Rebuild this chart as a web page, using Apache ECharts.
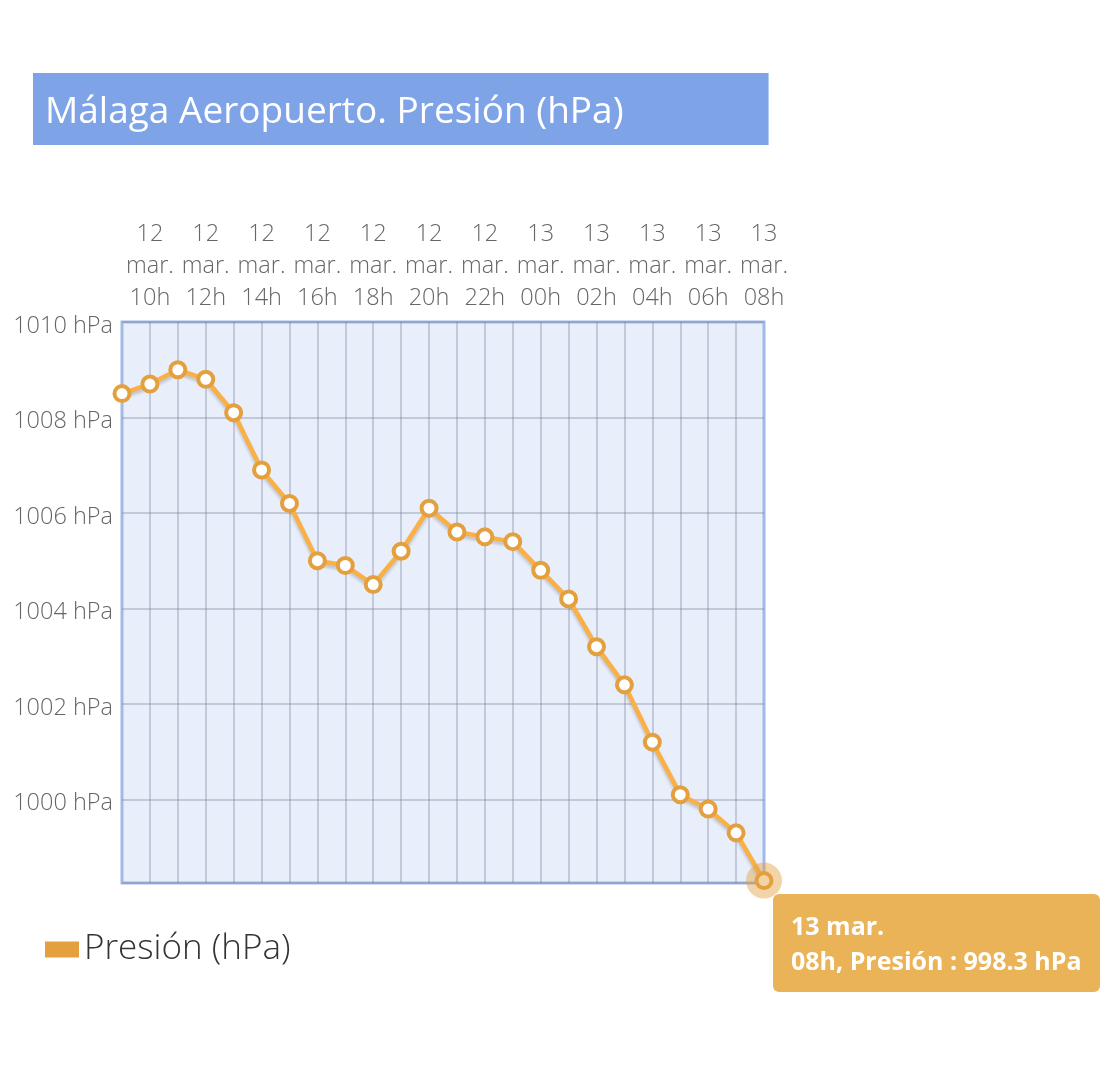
<!DOCTYPE html>
<html>
<head>
<meta charset="utf-8">
<title>Málaga Aeropuerto. Presión (hPa)</title>
<script src="https://cdn.jsdelivr.net/npm/echarts@6/dist/echarts.min.js"></script>
<style>
  html, body { margin: 0; padding: 0; background: #fff; }
  #chart { width: 1100px; height: 1071px; }
</style>
</head>
<body>
<div id="chart"></div>
<script>
// datos horarios
var fechas = ['12 mar.', '12 mar.', '12 mar.', '12 mar.', '12 mar.', '12 mar.', '12 mar.', '12 mar.',
  '12 mar.', '12 mar.', '12 mar.', '12 mar.', '12 mar.', '12 mar.', '12 mar.',
  '13 mar.', '13 mar.', '13 mar.', '13 mar.', '13 mar.', '13 mar.', '13 mar.', '13 mar.', '13 mar.']
var horas = ['09h', '10h', '11h', '12h', '13h', '14h', '15h', '16h', '17h', '18h', '19h', '20h',
  '21h', '22h', '23h', '00h', '01h', '02h', '03h', '04h', '05h', '06h', '07h', '08h']
var presion = [1008.5, 1008.7, 1009.0, 1008.8, 1008.1, 1006.9, 1006.2, 1005.0, 1004.9, 1004.5,
  1005.2, 1006.1, 1005.6, 1005.5, 1005.4, 1004.8, 1004.2, 1003.2, 1002.4, 1001.2,
  1000.1, 999.8, 999.3, 998.3]

var naranja = '#e4a03f'
var ultimo = presion.length - 1

var chart = echarts.init(document.getElementById('chart'))

chart.setOption({
  animation: false,
  textStyle: { fontFamily: '"Open Sans", sans-serif' },
  title: {
    text: 'Málaga Aeropuerto. Presión (hPa)',
    left: 33,
    top: 73,
    backgroundColor: '#7fa3e7',
    padding: [17, 145, 11, 12],
    textStyle: { color: '#fff', fontSize: 37, fontWeight: 'normal', lineHeight: 44 }
  },
  legend: {
    left: 40,
    top: 927,
    icon: 'rect',
    itemWidth: 34,
    itemHeight: 16,
    itemGap: 10,
    itemStyle: { color: naranja, borderWidth: 0 },
    textStyle: { fontSize: 35, color: '#333', fontWeight: 300 },
    data: ['Presión (hPa)']
  },
  tooltip: {
    trigger: 'axis',
    triggerOn: 'none',
    alwaysShowContent: true,
    axisPointer: { type: 'none' },
    backgroundColor: '#ebb358',
    borderWidth: 0,
    padding: [14, 18],
    extraCssText: 'border-radius:6px;box-shadow:none;line-height:35px;',
    textStyle: { color: '#fff', fontSize: 25, fontWeight: 'bold', fontFamily: '"Open Sans", sans-serif' },
    position: function (point) {
      return [point[0] + 9, point[1] + 13]
    },
    formatter: function (params) {
      var i = params[0].dataIndex
      return fechas[i] + '<br/>' + horas[i] + ', Presión : ' + params[0].value + ' hPa'
    }
  },
  grid: {
    left: 122,
    right: 336,
    top: 322,
    bottom: 188,
    show: true,
    backgroundColor: '#e8eefa',
    borderColor: '#a2b9e6',
    borderWidth: 3
  },
  xAxis: {
    type: 'category',
    position: 'top',
    boundaryGap: false,
    data: fechas.map(function (f, i) { return f.replace(' ', '\n') + '\n' + horas[i] }),
    axisLine: { show: false },
    axisTick: { show: false },
    axisLabel: {
      interval: function (index) { return index % 2 === 1 },
      color: '#666',
      fontSize: 23.5,
      fontWeight: 300,
      lineHeight: 32,
      margin: 8
    },
    splitLine: {
      show: true,
      interval: function (index) { return index > 0 && index < ultimo },
      lineStyle: { color: 'rgba(115,128,155,0.45)', width: 1.5 }
    }
  },
  yAxis: {
    type: 'value',
    min: 998.25,
    max: 1010,
    splitNumber: 6,
    axisLine: { show: false },
    axisTick: { show: false },
    axisLabel: {
      showMinLabel: false,
      color: '#666',
      fontSize: 23.5,
      fontWeight: 300,
      margin: 9,
      formatter: function (v) { return '{v|' + v + ' hPa}' },
      rich: { v: { color: '#666', fontSize: 23.5, fontWeight: 300, padding: [8, 0, 0, 0] } }
    },
    splitLine: { lineStyle: { color: 'rgba(115,128,155,0.45)', width: 1.5 } }
  },
  series: [{
    name: 'Presión (hPa)',
    type: 'line',
    data: presion,
    color: naranja,
    symbol: 'circle',
    symbolSize: 15,
    showAllSymbol: true,
    clip: false,
    lineStyle: {
      color: naranja,
      width: 4.5,
      shadowColor: 'rgba(0,0,0,0.18)',
      shadowBlur: 3,
      shadowOffsetY: 3
    },
    itemStyle: { color: '#fff', borderColor: naranja, borderWidth: 4 },
    emphasis: { scale: false },
    markPoint: {
      silent: true,
      symbol: 'circle',
      symbolSize: 36,
      label: { show: false },
      itemStyle: { color: 'rgba(228,160,63,0.45)' },
      data: [{ coord: [ultimo, presion[ultimo]] }]
    }
  }]
})

chart.dispatchAction({ type: 'showTip', seriesIndex: 0, dataIndex: ultimo })
</script>
</body>
</html>
